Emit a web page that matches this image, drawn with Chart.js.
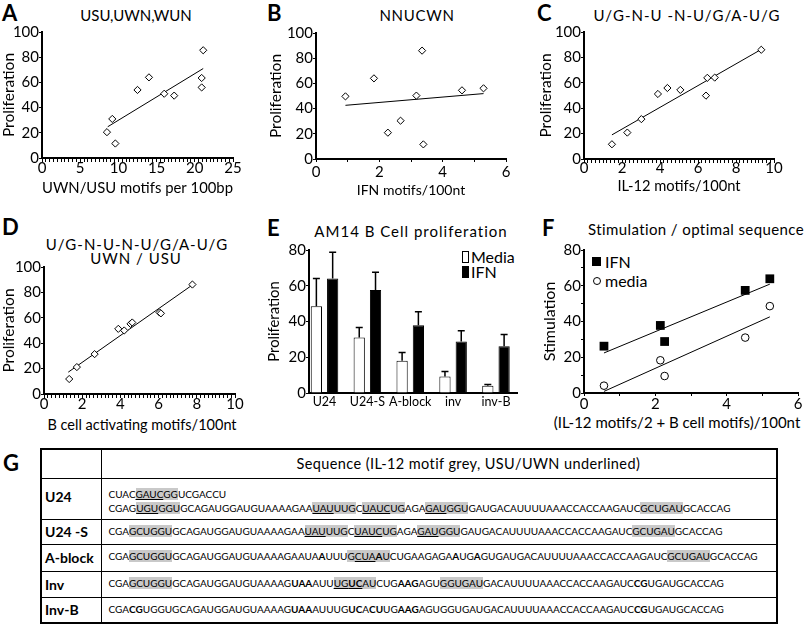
<!DOCTYPE html>
<html><head><meta charset="utf-8">
<script src="https://cdn.jsdelivr.net/npm/chart.js@4.4.1/dist/chart.umd.min.js"></script>
<style>
html,body{margin:0;padding:0;background:#fff;}
body{width:805px;height:627px;position:relative;overflow:hidden;font-family:Lato,'Noto Sans',sans-serif;color:#000;}
canvas{position:absolute;}
.t{position:absolute;white-space:nowrap;transform:translate(-50%,-50%);font-size:15px;line-height:1;}
.L{position:absolute;font-weight:bold;font-size:22px;line-height:1;}
.lg{position:absolute;font-size:16px;line-height:1;white-space:nowrap;transform:translateY(-50%);}
.sw{position:absolute;box-sizing:border-box;}
#tbl{position:absolute;left:40px;top:448px;width:738px;border-collapse:collapse;border:2px solid #000;table-layout:fixed;}
#tbl td{border:1px solid #000;padding:0;vertical-align:top;overflow:hidden;}
#tbl td.lab{width:60px;font-weight:bold;font-size:14px;padding-left:3px;box-sizing:border-box;vertical-align:middle;}
#tbl td.seq{font-size:10px;padding-left:7px;box-sizing:border-box;}
#tbl td.hdr{font-size:14.5px;letter-spacing:0.4px;padding-left:195px;vertical-align:middle;white-space:nowrap;}
.g{background:#c9c9c9;}
.u{text-decoration:underline;}
.sq{line-height:14px;white-space:nowrap;}
</style>
</head><body>

<div class="L" style="left:2px;top:2px">A</div>
<div class="L" style="left:267px;top:2px">B</div>
<div class="L" style="left:537px;top:2px">C</div>
<div class="L" style="left:2px;top:216px">D</div>
<div class="L" style="left:267px;top:217px">E</div>
<div class="L" style="left:542px;top:217px">F</div>
<div class="L" style="left:3px;top:452px">G</div>

<div class="t" style="left:136px;top:15px">USU,UWN,WUN</div>
<div class="t" style="left:417px;top:15px;letter-spacing:0.7px">NNUCWN</div>
<div class="t" style="left:687px;top:15px;letter-spacing:1px">U/G-N-U -N-U/G/A-U/G</div>
<div class="t" style="left:137px;top:244px;letter-spacing:1px">U/G-N-U-N-U/G/A-U/G</div>
<div class="t" style="left:136px;top:258px;letter-spacing:1px">UWN / USU</div>
<div class="t" style="left:411px;top:231px;letter-spacing:1px">AM14 B Cell proliferation</div>
<div class="t" style="left:696px;top:229px;letter-spacing:0.4px">Stimulation / optimal sequence</div>

<!-- axis titles that are wider than their plot area -->
<div class="t" style="left:142px;top:425px;font-size:14.5px">B cell activating motifs/100nt</div>
<div class="t" style="left:677px;top:422px;font-size:15px">(IL-12 motifs/2 + B cell motifs)/100nt</div>

<!-- legend E -->
<div class="sw" style="left:462px;top:251px;width:7px;height:12px;border:1px solid #000;background:#fff"></div>
<div class="lg" style="left:471px;top:257px">Media</div>
<div class="sw" style="left:462px;top:266px;width:7px;height:12px;background:#000"></div>
<div class="lg" style="left:471px;top:272px">IFN</div>
<!-- legend F -->
<div class="sw" style="left:592px;top:257px;width:9px;height:9px;background:#000"></div>
<div class="lg" style="left:605px;top:262px">IFN</div>
<div class="sw" style="left:593px;top:277px;width:8px;height:8px;border:1px solid #000;border-radius:50%;background:#fff"></div>
<div class="lg" style="left:605px;top:281px">media</div>

<table id="tbl">
<tr style="height:29px"><td class="lab"></td><td class="hdr">Sequence (IL-12 motif grey, USU/UWN underlined)</td></tr>
<tr style="height:41px"><td class="lab" style="vertical-align:top;padding-top:9px">U24</td><td class="seq" style="padding-top:8px">
<div class="sq">CUAC<span class="g"><span class="u">GAUC</span>GG</span>UCGACCU</div>
<div class="sq">CGAG<span class="g"><span class="u">UGU</span>GGU</span>GCAGAUGGAUGUAAAAGAA<span class="g"><span class="u">UAU</span>UUG</span>C<span class="g"><span class="u">UAUC</span>UG</span>AGA<span class="g"><span class="u">GAU</span>GGU</span>GAUGACAUUUUAAACCACCAAGAUC<span class="g">GCUGAU</span>GCACCAG</div>
</td></tr>
<tr style="height:25px"><td class="lab">U24 -S</td><td class="seq" style="padding-top:4px"><div class="sq">CGA<span class="g">GCUGGU</span>GCAGAUGGAUGUAAAAGAA<span class="g"><span class="u">UAU</span>UUG</span>C<span class="g"><span class="u">UAUC</span>UG</span>AGA<span class="g"><span class="u">GAU</span>GGU</span>GAUGACAUUUUAAACCACCAAGAUC<span class="g">GCUGAU</span>GCACCAG</div></td></tr>
<tr style="height:27px"><td class="lab">A-block</td><td class="seq" style="padding-top:4px"><div class="sq">CGA<span class="g">GCUGGU</span>GCAGAUGGAUGUAAAAGAAUA<b>A</b>UUU<span class="g">G<span class="u">CUA</span><b>A</b>U</span>CUGAAGAGA<b>A</b>UG<b>A</b>GUGAUGACAUUUUAAACCACCAAGAUC<span class="g">GCUGAU</span>GCACCAG</div></td></tr>
<tr style="height:26px"><td class="lab">Inv</td><td class="seq" style="padding-top:4px"><div class="sq">CGA<span class="g">GCUGGU</span>GCAGAUGGAUGUAAAAG<b>UAA</b>AUU<span class="g"><span class="u">UG<b>UC</b></span>AU</span>CUG<b>AAG</b>AGU<span class="g">GGUGAU</span>GACAUUUUAAACCACCAAGAUC<b>CG</b>UGAUGCACCAG</div></td></tr>
<tr style="height:26px"><td class="lab">Inv-B</td><td class="seq" style="padding-top:4px"><div class="sq">CGA<b>CG</b>UGGUGCAGAUGGAUGUAAAAG<b>UAA</b>AUUUG<b>UC</b>A<b>CU</b>UG<b>AAG</b>AGUGGUGAUGACAUUUUAAACCACCAAGAUC<b>CG</b>UGAUGCACCAG</div></td></tr>
</table>

<script>
// ---------- data ----------
const aX = [8.5, 9.2, 9.6, 12.5, 14.0, 16.0, 17.3, 20.9, 20.9, 21.1];
const aY = [20.5, 31, 11.5, 54, 64, 51, 49.5, 56, 63.5, 85.5];
const aFitX = [8.6, 21.1];
const aFitY = [24.8, 71.0];

const bX = [0.93, 1.83, 2.27, 2.67, 3.17, 3.35, 3.39, 4.61, 5.29];
const bY = [49.7, 64, 20.9, 30.4, 50.3, 86, 11.6, 54.5, 56.1];
const bFitX = [0.93, 5.29];
const bFitY = [42.6, 51.9];

const cX = [1.47, 2.28, 3.02, 3.89, 4.39, 5.07, 6.42, 6.49, 6.88, 9.33];
const cY = [11.6, 20.8, 31.4, 51.2, 55.9, 54.4, 49.9, 63.9, 64.1, 86.0];
const cFitX = [1.47, 9.33];
const cFitY = [19.0, 86.3];

const dX = [1.32, 1.72, 2.65, 3.89, 4.2, 4.53, 4.62, 6.05, 6.12, 7.77];
const dY = [11.8, 21.2, 31.4, 51.3, 50.0, 55.2, 56.3, 64.2, 63.5, 86.2];
const dFitX = [1.27, 7.77];
const dFitY = [17.2, 85.9];

const eCats = ['U24', 'U24-S', 'A-block', 'inv', 'inv-B'];
const eMedia = [48.6, 31, 18.1, 9.3, 4.1];
const eMediaErr = [15.5, 5.6, 4.5, 2.7, 0.6];
const eIFN = [64.1, 57.6, 37.9, 28.8, 26.2];
const eIFNErr = [14.6, 9.9, 7.5, 6.0, 6.5];

const fX = [0.56, 2.14, 2.26, 4.52, 5.21];
const fIFN = [26.2, 37.8, 28.8, 57.4, 63.9];
const fMedia = [4.1, 18.3, 9.5, 31.0, 48.6];
const fFitX = [0.56, 5.21];
const fIFNFitY = [22.4, 60.9];
const fMediaFitY = [0.9, 42.6];

// ---------- helpers ----------
Chart.defaults.font.family = "Lato, 'Noto Sans', sans-serif";
Chart.defaults.color = '#000';
Chart.defaults.animation = false;
Chart.defaults.plugins.legend.display = false;
Chart.defaults.plugins.tooltip.enabled = false;

const pts = (xs, ys) => xs.map((x, i) => ({x: x, y: ys[i]}));
const near = (v, m) => Math.abs(v / m - Math.round(v / m)) < 1e-6;

function mkCanvas(left, top, w, h) {
  const c = document.createElement('canvas');
  c.width = w; c.height = h;
  c.style.left = left + 'px'; c.style.top = top + 'px';
  c.style.width = w + 'px'; c.style.height = h + 'px';
  document.body.appendChild(c);
  return c;
}

function xAxis(o) {
  return {
    type: 'linear', min: o.min, max: o.max,
    afterBuildTicks: s => {
      const t = [];
      for (let k = 0; o.min + k * o.step <= o.max + 1e-9; k++) t.push({value: Math.round((o.min + k * o.step) * 1000) / 1000});
      s.ticks = t;
    },
    ticks: {autoSkip: false, maxRotation: 0, padding: o.pad, font: {size: 15}, color: '#000',
      callback: v => near(v, o.label) ? String(Math.round(v)) : ''},
    grid: {display: true, drawOnChartArea: false, drawTicks: true, tickLength: o.tl, color: '#000', lineWidth: 1},
    border: {display: true, color: '#000', width: 2},
    title: {display: !!o.title, text: o.title, font: {size: o.ts || 15}, color: '#000', padding: {top: 0, bottom: o.tpad}},
    afterFit: s => { s.height = o.h; }
  };
}
function yAxis(o) {
  return {
    type: 'linear', min: o.min, max: o.max,
    afterBuildTicks: s => {
      const t = [];
      for (let k = 0; o.min + k * o.step <= o.max + 1e-9; k++) t.push({value: o.min + k * o.step});
      s.ticks = t;
    },
    ticks: {autoSkip: false, padding: 0, font: {size: 15}, color: '#000',
      callback: v => near(v, o.label) ? String(Math.round(v)) : ''},
    grid: {display: true, drawOnChartArea: false, drawTicks: true, tickLength: 3, color: '#000', lineWidth: 1},
    border: {display: true, color: '#000', width: 2},
    title: {display: true, text: o.title, font: {size: o.ts || 15.5}, color: '#000', padding: {top: o.tpad, bottom: 0}},
    afterFit: s => { s.width = o.w; }
  };
}

function scatterPanel(cv, pad, xs, ys, fx, fy, xo, yo) {
  return new Chart(mkCanvas(cv[0], cv[1], cv[2], cv[3]), {
    type: 'scatter',
    data: {datasets: [
      {data: pts(xs, ys), pointStyle: 'rectRot', pointRadius: 3.6, pointBorderWidth: 1,
        pointBackgroundColor: '#fff', pointBorderColor: '#000'},
      {data: pts(fx, fy), showLine: true, pointRadius: 0, borderColor: '#000', borderWidth: 1}
    ]},
    options: {responsive: false, devicePixelRatio: 1, layout: {padding: pad},
      scales: {x: xAxis(xo), y: yAxis(yo)}}
  });
}

// ---------- A ----------
scatterPanel([0, 20, 250, 180], {top: 12, right: 17, left: 0, bottom: 0}, aX, aY, aFitX, aFitY,
  {min: 0, max: 25, step: 0.5, label: 5, tl: 4, pad: -2.7, h: 42, title: 'UWN/USU motifs per 100bp', ts: 16, tpad: 2.1},
  {min: 0, max: 100, step: 20, label: 20, w: 42, title: 'Proliferation', tpad: 0});
// ---------- B ----------
scatterPanel([265, 20, 270, 180], {top: 13, right: 29, left: 0, bottom: 0}, bX, bY, bFitX, bFitY,
  {min: 0, max: 6, step: 1, label: 2, tl: 3, pad: 1.5, h: 41, title: 'IFN motifs/100nt', ts: 14, tpad: 0.9},
  {min: 0, max: 100, step: 20, label: 20, w: 51, title: 'Proliferation', tpad: 1.7});
// ---------- C ----------
scatterPanel([535, 20, 270, 180], {top: 12, right: 31, left: 0, bottom: 0}, cX, cY, cFitX, cFitY,
  {min: 0, max: 10, step: 0.2, label: 2, tl: 4, pad: -3.5, h: 41, title: 'IL-12 motifs/100nt', ts: 14.7, tpad: 4.5},
  {min: 0, max: 100, step: 20, label: 20, w: 49, title: 'Proliferation', tpad: 1.7});
// ---------- D ----------
scatterPanel([0, 250, 250, 185], {top: 17, right: 15, left: 0, bottom: 0}, dX, dY, dFitX, dFitY,
  {min: 0, max: 10, step: 0.2, label: 2, tl: 4, pad: -3, h: 41, title: '', tpad: 0},
  {min: 0, max: 100, step: 20, label: 20, w: 44, title: 'Proliferation', tpad: 0});

// ---------- E (bars with error bars) ----------
const errorBars = {
  id: 'errorBars',
  afterDatasetsDraw(chart) {
    const ctx = chart.ctx, ys = chart.scales.y;
    chart.data.datasets.forEach((ds, di) => {
      const meta = chart.getDatasetMeta(di);
      meta.data.forEach((bar, i) => {
        const v = ds.data[i].y, e = ds.errs[i];
        const yTop = ys.getPixelForValue(v + e);
        ctx.save();
        ctx.strokeStyle = '#000'; ctx.lineWidth = 1.5;
        ctx.beginPath();
        ctx.moveTo(bar.x, bar.y); ctx.lineTo(bar.x, yTop);
        ctx.moveTo(bar.x - 3.5, yTop); ctx.lineTo(bar.x + 3.5, yTop);
        ctx.stroke();
        ctx.restore();
      });
    });
  }
};
new Chart(mkCanvas(265, 235, 270, 180), {
  type: 'bar',
  data: {datasets: [
    {label: 'Media', data: pts([0, 1, 2, 3, 4], eMedia), errs: eMediaErr, backgroundColor: '#fff', borderColor: '#000', borderWidth: 1},
    {label: 'IFN', data: pts([0, 1, 2, 3, 4], eIFN), errs: eIFNErr, backgroundColor: '#000', borderColor: '#000', borderWidth: 1}
  ]},
  options: {responsive: false, devicePixelRatio: 1, layout: {padding: {top: 15, right: 17.6, left: 0, bottom: 0}},
    datasets: {bar: {categoryPercentage: 0.76, barPercentage: 0.69}},
    scales: {
      x: {type: 'linear', min: -0.362, max: 4.5, offset: false,
        afterBuildTicks: s => { s.ticks = eCats.map((c, i) => ({value: i})); },
        ticks: {autoSkip: false, maxRotation: 0, padding: 1.5, font: {size: 12.5}, color: '#000', callback: v => eCats[v]},
        grid: {display: false, drawTicks: false},
        border: {display: true, color: '#000', width: 2},
        afterFit: s => { s.height = 22; }},
      y: yAxis({min: 0, max: 80, step: 20, label: 20, w: 44, title: 'Proliferation', ts: 14.8, tpad: 0})
    }},
  plugins: [errorBars]
});

// ---------- F ----------
new Chart(mkCanvas(535, 235, 270, 200), {
  type: 'scatter',
  data: {datasets: [
    {label: 'IFN', data: pts(fX, fIFN), pointStyle: 'rect', pointRadius: 6.2, pointBorderWidth: 0,
      pointBackgroundColor: '#000', pointBorderColor: '#000'},
    {label: 'media', data: pts(fX, fMedia), pointStyle: 'circle', pointRadius: 3.8, pointBorderWidth: 1,
      pointBackgroundColor: '#fff', pointBorderColor: '#000'},
    {data: pts(fFitX, fIFNFitY), showLine: true, pointRadius: 0, borderColor: '#000', borderWidth: 1},
    {data: pts(fFitX, fMediaFitY), showLine: true, pointRadius: 0, borderColor: '#000', borderWidth: 1}
  ]},
  options: {responsive: false, devicePixelRatio: 1, layout: {padding: {top: 15, right: 7, left: 0, bottom: 0}},
    scales: {
      x: xAxis({min: 0, max: 6, step: 1, label: 2, tl: 3, pad: -1, h: 42, title: '', tpad: 0}),
      y: yAxis({min: 0, max: 80, step: 10, label: 20, w: 49, title: 'Stimulation', ts: 16, tpad: 5.5})
    }}
});
</script>
</body></html>
